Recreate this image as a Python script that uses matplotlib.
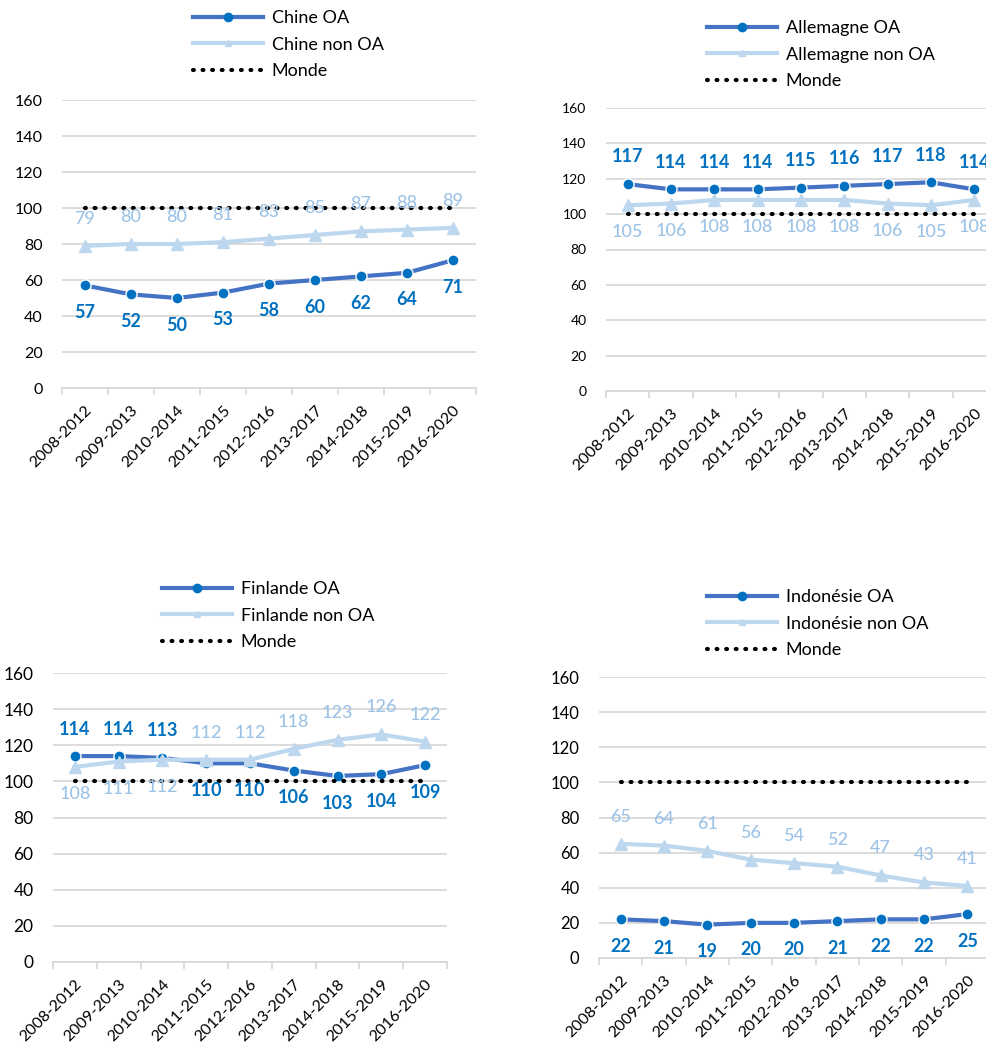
import matplotlib

matplotlib.use("Agg")
import matplotlib.pyplot as plt
import numpy as np
from matplotlib.lines import Line2D

plt.rcParams["font.family"] = ["Lato", "DejaVu Sans"]

# --- données ---
PERIODES = ["2008-2012", "2009-2013", "2010-2014", "2011-2015", "2012-2016",
            "2013-2017", "2014-2018", "2015-2019", "2016-2020"]
MONDE = [100, 100, 100, 100, 100, 100, 100, 100, 100]

CHINE_OA = [57, 52, 50, 53, 58, 60, 62, 64, 71]
CHINE_NON_OA = [79, 80, 80, 81, 83, 85, 87, 88, 89]

ALLEMAGNE_OA = [117, 114, 114, 114, 115, 116, 117, 118, 114]
ALLEMAGNE_NON_OA = [105, 106, 108, 108, 108, 108, 106, 105, 108]

FINLANDE_OA = [114, 114, 113, 110, 110, 106, 103, 104, 109]
FINLANDE_NON_OA = [108, 111, 112, 112, 112, 118, 123, 126, 122]

INDONESIE_OA = [22, 21, 19, 20, 20, 21, 22, 22, 25]
INDONESIE_NON_OA = [65, 64, 61, 56, 54, 52, 47, 43, 41]

# --- mise en forme (style Excel) ---
W, H = 986, 1043
BLEU = "#4472C4"
POINT = "#0070C0"
CLAIR = "#BDD7EE"
CLAIR_TXT = "#9DC3E6"
GRILLE = "#D9D9D9"
POINTILLE = (0, (0.2, 2.1))

HAUT, BAS = 1, -1
PANNEAUX = [
    dict(pays="Chine", oa=CHINE_OA, non_oa=CHINE_NON_OA,
         boite=(62, 100, 476, 388), legende=(193, 10), ytick=11.5,
         pos_oa=[BAS] * 9, pos_non=[HAUT] * 9),
    dict(pays="Allemagne", oa=ALLEMAGNE_OA, non_oa=ALLEMAGNE_NON_OA,
         boite=(606, 108, 996, 391), legende=(707, 20), ytick=10,
         pos_oa=[HAUT] * 9, pos_non=[BAS] * 9),
    dict(pays="Finlande", oa=FINLANDE_OA, non_oa=FINLANDE_NON_OA,
         boite=(53, 673, 447, 962), legende=(162, 581), ytick=12.5,
         pos_oa=[HAUT] * 3 + [BAS] * 6, pos_non=[BAS] * 3 + [HAUT] * 6),
    dict(pays="Indonésie", oa=INDONESIE_OA, non_oa=INDONESIE_NON_OA,
         boite=(599, 677, 989, 958), legende=(707, 589), ytick=12,
         pos_oa=[BAS] * 9, pos_non=[HAUT] * 9),
]


def etiquettes(ax, valeurs, positions, couleur, poids):
    for i, (v, p) in enumerate(zip(valeurs, positions)):
        ax.annotate(f"{v}", (i, v), xytext=(0, 19.5 * p), textcoords="offset points",
                    ha="center", va="center", fontsize=13, color=couleur,
                    fontweight=poids, zorder=6)


fig = plt.figure(figsize=(W / 100, H / 100), dpi=100)

for pan in PANNEAUX:
    x0, y0, x1, y1 = pan["boite"]
    ax = fig.add_axes([x0 / W, 1 - y1 / H, (x1 - x0) / W, (y1 - y0) / H])
    x = np.arange(len(PERIODES))

    ax.plot(x, pan["oa"], color=BLEU, lw=3, marker="o", ms=8, mfc=POINT,
            mec="white", mew=1, zorder=3)
    ax.plot(x, pan["non_oa"], color=CLAIR, lw=3, marker="^", ms=8, mfc=CLAIR,
            mec=CLAIR, zorder=4)
    ax.plot(x, MONDE, color="black", lw=3, ls=POINTILLE, dash_capstyle="round",
            zorder=5)

    etiquettes(ax, pan["oa"], pan["pos_oa"], POINT, "bold")
    etiquettes(ax, pan["non_oa"], pan["pos_non"], CLAIR_TXT, "medium")

    ax.set_xlim(-0.5, len(PERIODES) - 0.5)
    ax.set_ylim(0, 160)
    ax.set_yticks(range(0, 161, 20))
    ax.tick_params(axis="y", length=0, pad=14, labelsize=pan["ytick"])
    ax.grid(axis="y", color=GRILLE, lw=1.3)
    ax.set_axisbelow(True)
    for cote in ("top", "right", "left"):
        ax.spines[cote].set_visible(False)
    ax.spines["bottom"].set_color(GRILLE)
    ax.spines["bottom"].set_linewidth(1.3)

    ax.set_xticks(x)
    ax.set_xticklabels(PERIODES, rotation=45, ha="right", rotation_mode="anchor",
                       fontsize=11.5)
    ax.set_xticks(np.arange(-0.5, len(PERIODES)), minor=True)
    ax.tick_params(axis="x", which="major", length=0, pad=11)
    ax.tick_params(axis="x", which="minor", length=5, color=GRILLE, width=1.3)

    poignees = [
        Line2D([], [], color=BLEU, lw=3, marker="o", ms=6, mfc=POINT, mec=POINT),
        Line2D([], [], color=CLAIR, lw=3, marker="^", ms=5, mfc=CLAIR, mec=CLAIR),
        Line2D([], [], color="black", lw=3, ls=POINTILLE, dash_capstyle="round"),
    ]
    noms = [f"{pan['pays']} OA", f"{pan['pays']} non OA", "Monde"]
    lx, ly = pan["legende"]
    fig.legend(poignees, noms, loc="upper left", bbox_to_anchor=(lx / W, 1 - ly / H),
               bbox_transform=fig.transFigure, frameon=False, fontsize=13,
               borderpad=0, borderaxespad=0, handlelength=3.9, handletextpad=0.45,
               labelspacing=0.59)

fig.savefig("out.png", dpi=100)
